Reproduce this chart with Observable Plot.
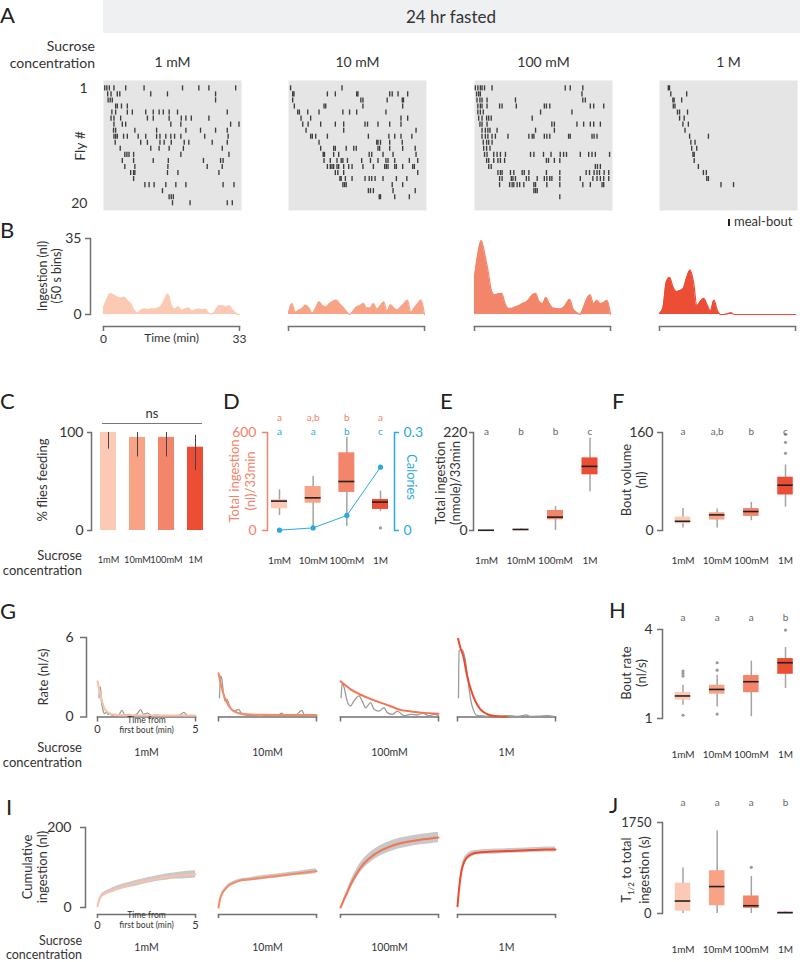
<!DOCTYPE html>
<html><head><meta charset="utf-8">
<script src="https://cdn.jsdelivr.net/npm/d3@7"></script>
<script src="https://cdn.jsdelivr.net/npm/@observablehq/plot@0.6"></script>
<style>
html,body{margin:0;padding:0;background:#fff;}
#fig{position:relative;width:800px;height:962px;overflow:hidden;font-family:Lato,'Open Sans',sans-serif;color:#333;}
.t{position:absolute;white-space:nowrap;line-height:1.15;}
</style></head><body><div id="fig"></div><script>
// ---------------- DATA ----------------
const cats = ["1mM","10mM","100mM","1M"];
const catTitles = ["1 mM","10 mM","100 mM","1 M"];

// A: meal-bout onsets (min) per fly
const raster1mM = [
 [0.3,0.8,1.4,2.5,5.3,9.7,18.9,22.8,25.2,31.6],[1.0,1.8,3.3,3.9,11.3,15.3,26.8],[1.1,1.6,2.1,26.8],[2.9,3.3,4.3,5.7],
 [2.0,2.9,5.7,6.9,10.1,11.9,13.3,14.3,15.7,17.7,29.6],[1.8,2.5,4.1,10.5,11.9,15.7,18.6,19.7,21.0,25.2],[2.5,4.5,5.3,16.1,18.5,30.4,32.4],
 [2.4,2.9,7.5,12.7,19.7,23.2,26.8,29.6],[2.5,2.9,3.3,4.8,5.7,8.3,10.1,12.7,13.5,14.9,16.1,17.0,18.5,24.2,29.8],[2.8,8.9,10.5,13.5,14.5,16.2,19.3,20.4,26.0,29.6],
 [4.0,11.3,13.3,15.7,19.1,28.4],[5.1,5.6,6.1,7.2,18.5,30.0],[4.5,7.2,11.9,15.5,23.9,28.0,28.6],[5.1,7.5,15.4,24.8,28.4],[6.5,7.2,7.5,15.3,17.8,27.6],
 [7.2],[9.9,10.9,12.1,14.9,17.3,19.7,28.6,31.2],[14.1],[15.7,16.2,16.7],[16.5,20.7,29.6,30.8]
];
const raster10mM = [
 [0.5,12.8],[1.0,1.3,9.3,11.2,16.3,16.6,24.2,24.8,26.2,28.5],[1.0,17.3,17.8,23.6,27.2,27.5],[1.4,8.5,8.9,17.8,27.3],
 [2.2,2.6,4.6,7.3,13.0,14.6,16.3,23.3],[3.0,5.3,26.9,28.5],[3.4,4.7,7.7,11.2,13.2,18.3,18.9,21.4,24.2,26.9],[4.2,13.2,30.5],
 [5.3,5.7,6.5,9.3,19.1,24.0,25.4,26.9,29.5],[7.3,21.1,21.4,22.0,24.2,27.2],[7.7,10.8,11.2,13.8,15.6,16.2,21.4,21.8,24.2,27.3,30.3],
 [8.3,8.6,10.8,12.0,19.3,19.9,22.6,25.0,30.5],[8.5,10.0,11.6,12.6,13.0,14.1,17.5,19.6,21.4,23.3,23.8,25.4,28.9,30.9],
 [9.3,10.0,10.4,10.8,11.6,12.0,13.2,14.4,15.2,17.8,20.3,23.0,23.4,23.8,25.4,25.8,27.3,29.7,30.1],[11.2,11.8,13.2,30.9],
 [12.3,12.6,13.6,15.2,18.3,19.3,19.9,20.7,22.6,25.8,28.3],[13.0,13.4,13.8,24.8,27.3],[19.1,19.6,20.3,25.0,30.3],[21.7,22.0,25.4,28.9]
];
const raster100mM = [
 [0.2,0.8,1.4,1.8,2.4,4.2,21.7,22.9,25.9],[0.5,1.0,1.4,25.7],[0.6,1.3,1.8,3.0,9.8,25.9,26.5],
 [0.8,1.4,1.8,3.0,6.0,6.6,10.0,16.7,17.2,18.0,27.7,28.5,30.9],[0.8,1.4,2.1,15.8,23.3],[1.0,1.8,2.9,3.4,4.0,13.8],
 [1.3,1.8,3.0,18.5,19.1,24.5,26.1,27.7,28.5,30.1],[1.8,2.6,3.2,3.7,5.4,14.6,19.1],
 [1.8,2.6,3.2,4.2,5.0,8.0,13.0,13.8,14.2,16.7,17.3,18.0,22.5,22.9,28.1,28.6,29.3],[2.1,2.9,3.4,4.2],[2.2,2.9,3.7],
 [2.4,3.0,4.6,5.4,6.2,7.4,13.4,14.2,16.5,18.3,20.5,21.3,22.0,25.3,27.3,28.1,28.9,32.3],[2.9,3.4,4.6,5.6,6.2,7.2,17.2,17.7,19.1,20.4],
 [3.4,4.0,28.9,29.4,30.1],[5.6,6.2,6.6,8.6,9.4,11.4,11.9,13.0,17.2,20.4,26.7,27.5,28.6,29.3,29.9,31.0,32.1],
 [6.0,6.6,8.8,9.2,9.8,12.4,13.0,15.0,16.7,17.3,18.0,18.5,20.4,25.3,28.3,29.3,30.1,30.9,32.1],
 [6.0,8.4,9.0,9.4,10.2,10.8,11.8,14.2,14.6,17.3,20.4,25.9,27.7,30.5,30.9],[14.2,14.6,15.0],[20.4]
];
const raster1M = [
 [2.1,2.4],[2.7,6.5],[3.2,3.5,5.3],[3.3,3.7],[4.3,4.8,6.7],[4.8,5.9],[5.6,6.9],[6.1],[7.2,11.7],[7.5,8.5],
 [7.7,8.9],[8.0,8.3],[8.3],[9.3],[10.5,11.2],[11.3,11.7],[14.7,17.7]
];

// B: ingestion (nl) per 50 s bin, 0..33 min
const ingest1mM = [3,7,9.5,9,8,7.5,8,6.5,5,2,0.5,2,2.5,2.3,2.5,2.5,3,4,7,9.4,4,2.5,3.5,2,2.5,3,1.5,2.2,2.5,2,2.5,0.5,0.3,2,4,4,3.5,4,2,0.5,0];
const ingest10mM = [0.5,5,1,2,2.8,4.3,3,0.5,3,5.8,4,3.5,5,6,6.6,5,3.5,1.5,0,1.5,3.5,4,5,3,3,5,2.5,4,5.8,1.5,4.5,3,2,3.5,5,6.6,1,3,5,6.6,0];
const ingest100mM = [17,28,34,28,20,11,9,9.5,9.7,5,2.8,2.8,3.5,4,5,5.5,7,9,9.7,6,5,7.8,5,3,2.8,2.5,3,5,7,2.5,1,0,3,7,9,5,6.5,5,5.5,6.5,0];
const ingest1M = [0.5,3,15,17,12.5,10.5,11,12,17,20.4,15,4,6,7.4,4.5,1.5,6.6,2,0,0,0.3,0.8,0,0,0,0,0,0,0,0,0,0,0,0,0,0,0,0,0,0,0];

// C: % flies feeding
const pctFeeding = [100,95,95,85];
const pctLo = [83,75,75,61];
const pctHi = [100,100,100,97];

// D: total ingestion (nl)/33min  [low whisker, q1, median, q3, high whisker]
const totalNlStats = [[92,133,180,188,249],[20,167,200,269,331],[24,233,300,476,571],[118,129,174,190,241]];
const totalNlOutliers = [[],[],[],[16]];
const calories = [0.001,0.008,0.046,0.194];
const lettersDnl = ["a","a,b","b","a"];
const lettersDcal = ["a","a","b","c"];

// E: total ingestion (nmole)/33min
const totalNmoleStats = [[0,0.2,0.5,0.9,1.5],[0.5,1.5,2.2,3.0,4.0],[0,24,30,45,54],[87,125,144,163,207]];
const lettersE = ["a","b","b","c"];

// F: bout volume (nl)
const boutVolStats = [[4,11,15,22,36],[4,17,25.5,29,35],[16,23,31,36,46],[38,58,74,87,107]];
const boutVolOutliers = [[],[],[],[126,144,157]];
const lettersF = ["a","a,b","b","c"];

// G: ingestion rate (nl/s) vs time from first bout (min): [t, rate]
const rateData1mM = [[0.08,1.45],[0.1,2.3],[0.15,2.2],[0.2,1.2],[0.27,0.6],[0.35,0.25],[0.45,0.35],[0.55,0.2],[0.65,0.3],[0.75,0.12],[0.9,0.2],[1.05,0.1],[1.25,0.5],[1.4,0.15],[1.6,0.2],[1.8,0.08],[2.0,0.2],[2.2,0.55],[2.35,0.2],[2.55,0.3],[2.75,0.1],[3.0,0.15],[3.3,0.06],[3.6,0.12],[3.9,0.1],[4.2,0.15],[4.4,0.35],[4.6,0.1],[4.8,0.12],[5,0.05]];
const rateData10mM = [[0.05,1.45],[0.1,3.1],[0.17,2.85],[0.26,1.7],[0.34,1.2],[0.43,1.33],[0.6,0.7],[0.77,0.45],[0.9,0.5],[1.03,0.58],[1.2,0.2],[1.4,0.15],[1.6,0.1],[1.8,0.15],[2.1,0.05],[2.4,0.12],[2.7,0.1],[3.0,0.06],[3.2,0.3],[3.4,0.12],[3.7,0.1],[4.0,0.2],[4.25,0.5],[4.4,0.12],[4.7,0.06],[5,0.1]];
const rateData100mM = [[0.03,1.45],[0.09,2.6],[0.17,2.3],[0.34,1.2],[0.51,0.83],[0.68,1.2],[0.94,1.6],[1.11,1.2],[1.28,0.7],[1.54,1.08],[1.71,0.58],[1.96,0.45],[2.22,0.7],[2.39,0.33],[2.65,0.2],[2.9,0.45],[3.24,0.1],[3.58,0.2],[3.92,0.15],[4.2,0.3],[4.5,0.1],[4.8,0.2],[5,0.1]];
const rateData1M = [[0.05,1.45],[0.08,5.0],[0.22,5.1],[0.39,4.37],[0.56,2.5],[0.68,1.24],[0.82,0.5],[0.99,0.12],[1.2,0.1],[1.45,0.05],[1.8,0.12],[2.2,0.05],[2.6,0.1],[3.0,0.05],[3.4,0.12],[3.5,0.15],[3.7,0.05],[4.1,0.06],[4.6,0.1],[4.9,0.05]];
const rateFit1mM = [[0,2.7],[0.1,2.0],[0.2,1.35],[0.3,0.85],[0.4,0.55],[0.55,0.32],[0.7,0.22],[1,0.16],[1.5,0.13],[2,0.12],[3,0.12],[4,0.12],[5,0.12]];
const rateFit10mM = [[0,3.3],[0.13,2.4],[0.26,1.7],[0.4,1.2],[0.52,0.85],[0.77,0.45],[1,0.3],[1.3,0.22],[2,0.17],[3,0.16],[4,0.16],[5,0.16]];
const rateFit100mM = [[0,2.7],[0.25,2.4],[0.5,2.1],[1,1.7],[1.37,1.46],[2,1.1],[2.5,0.85],[3.1,0.52],[3.6,0.42],[4.1,0.33],[5,0.25]];
const rateFit1M = [[0.03,5.9],[0.15,5.2],[0.31,4.5],[0.45,3.4],[0.56,2.7],[0.7,2.0],[0.82,1.5],[1,0.95],[1.16,0.6],[1.4,0.3],[1.67,0.13],[2,0.05],[2.5,0.02]];

// H: bout rate (nl/s)
const boutRateStats = [[1.45,1.62,1.76,1.88,2.12],[1.39,1.82,1.98,2.12,2.46],[1.06,1.87,2.24,2.45,2.93],[2.01,2.49,2.88,3.02,3.39]];
const boutRateOutliers = [[2.43,2.52,2.6,1.11],[2.63,2.88,1.15],[],[3.98]];
const lettersH = ["a","a","a","b"];

// I: cumulative ingestion (nl), mean and spread
const cumT = [0,0.1,0.2,0.35,0.5,0.75,1,1.5,2,2.5,3,3.5,4,4.5,5];
const cum1mM = [3,20,29,34,38,43,48,55,61,67,72,76,79,81,83];
const cumSd1mM = [2,3,4,5,5,6,6,6,7,7,7,8,8,9,9];
const cum10mM = [0,25,36,46,54,61,66,70,73,76,79,82,85,88,91];
const cumSd10mM = [1,3,4,4,4,4,4,4,5,5,5,5,5,6,6];
const cum100mM = [0,11,22,38,55,78,98,124,141,152,160,165,169,172,175];
const cumSd100mM = [0,3,5,7,9,11,12,13,13,13,13,13,13,13,13];
const cum1M = [3,55,90,115,126,134,137,139,140,141,142,143,144,145,145];
const cumSd1M = [1,8,10,9,8,7,6,6,6,6,6,6,6,6,6];

// J: T1/2 to total ingestion (s)
const halfTimeStats = [[0,45,240,583,875],[0,149,518,823,1588],[0,97,149,337,713],[0,5,15,25,35]];
const halfTimeOutliers = [[],[],[888],[]];
const lettersJ = ["a","a","a","b"];

// ---------------- STYLE ----------------
const fillColors = ["#fccab4","#f8a386","#f3866a","#ec4d35"];
const lineColors = ["#f9c1a6","#f58a66","#f37352","#ee4a2e"];
const BLUE = "#2aa9e0", SALMON = "#f2826a", AX = "#707070", INK = "#333";
const FONT = "Lato, 'Open Sans', sans-serif";
const fig = document.getElementById("fig");

function plotAt(frame, m, opts) {
  const width = frame.x1 - frame.x0 + m.l + m.r;
  const height = frame.y1 - frame.y0 + m.t + m.b;
  const svg = Plot.plot({width, height, marginLeft: m.l, marginRight: m.r, marginTop: m.t, marginBottom: m.b,
    style: {fontFamily: FONT, fontSize: "12px", background: "transparent", overflow: "visible", color: INK}, ...opts});
  svg.style.position = "absolute";
  svg.style.left = (frame.x0 - m.l) + "px";
  svg.style.top = (frame.y0 - m.t) + "px";
  svg.style.maxWidth = "none";
  fig.appendChild(svg);
  return svg;
}
function txt(html, x, y, o = {}) {
  const d = document.createElement("div");
  d.className = "t"; d.innerHTML = html;
  const s = d.style;
  s.fontSize = (o.size || 13) + "px"; s.color = o.color || INK;
  if (o.lh) s.lineHeight = o.lh;
  if (o.align === "right") { s.right = (800 - x) + "px"; s.top = y + "px"; s.textAlign = "right"; }
  else if (o.rotate) { s.left = x + "px"; s.top = y + "px"; s.textAlign = "center"; s.transform = `translate(-50%,-50%) rotate(${o.rotate}deg)`; }
  else if (o.align === "center") { s.left = x + "px"; s.top = y + "px"; s.textAlign = "center"; s.transform = "translate(-50%,-50%)"; }
  else { s.left = x + "px"; s.top = y + "px"; }
  fig.appendChild(d);
  return d;
}
function bandCfg(L, R, c1, cn, bw) {
  const n = cats.length, s = (cn - c1) / (n - 1), pi = 1 - bw / s;
  const covered = s * (n - pi), po = ((R - L) / s - n + pi) / 2;
  const align = (c1 - bw / 2 - L) / ((R - L) - covered);
  return {type: "band", domain: cats, paddingInner: pi, paddingOuter: po, align, round: false};
}
function yAxisMarks(ticks, o = {}) {
  const {color = AX, text = INK, fontSize = 14, tickSize = 4, tickPadding = 3, anchor = "left"} = o;
  return [
    Plot.axisY({ticks, anchor, tickSize, tickPadding, fontSize, stroke: color, fill: text, strokeWidth: 1.5, label: null, tickFormat: d => String(d)}),
    Plot.frame({anchor, stroke: color, strokeWidth: 1.5})
  ];
}
function yAxisOnly(spineX, y0, y1, domain, ticks, o = {}) {
  plotAt({x0: spineX, x1: spineX + 1, y0, y1}, {l: 45, r: 0, t: 8, b: 8}, {
    y: {domain}, marks: [...yAxisMarks(ticks, o)]
  });
}
function boxMarks(statsArr, outArr) {
  const st = statsArr.map((s, i) => ({c: cats[i], lo: s[0], q1: s[1], med: s[2], q3: s[3], hi: s[4]}));
  const out = outArr.flatMap((vs, i) => vs.map(v => ({c: cats[i], v})));
  return [
    Plot.ruleX(st, {x: "c", y1: "lo", y2: "hi", stroke: "#a3a3a3", strokeWidth: 1.5}),
    Plot.barY(st, {x: "c", y1: "q1", y2: "q3", fill: "c"}),
    Plot.tickY(st, {x: "c", y: "med", stroke: "#222", strokeWidth: 1.6}),
    Plot.dot(out, {x: "c", y: "v", r: 1.6, fill: "#9a9a9a", stroke: null})
  ];
}
const letterMarks = (letters, dy, fill = "#666") =>
  Plot.text(cats, {x: d => d, text: (d, i) => letters[i], frameAnchor: "top", dy, fontSize: 10, fill});
const catAxis = (tp, fs = 10) => Plot.axisX({tickSize: 0, tickPadding: tp, fontSize: fs, fill: INK, label: null});
const colorCfg = {domain: cats, range: fillColors};

// ---------------- HEADER / PANEL LETTERS ----------------
const band = document.createElement("div");
Object.assign(band.style, {position: "absolute", left: "103px", top: "0px", width: "697px", height: "33px", background: "#eff0f2"});
fig.appendChild(band);
txt("24 hr fasted", 451, 17, {align: "center", size: 17});
[["A",0,4],["B",0,219],["C",0,390],["D",223,390],["E",440,390],["F",612,390],["G",0,600],["H",609,599],["I",6,796],["J",609,794]]
  .forEach(([l, x, y]) => txt(l, x, y, {size: 22, color: "#222", lh: 1}));
txt("Sucrose<br>concentration", 95, 38, {align: "right", size: 14, lh: 1.2});
txt("Sucrose<br>concentration", 82, 548, {align: "right", size: 13});
txt("Sucrose<br>concentration", 82, 740, {align: "right", size: 13});
txt("Sucrose<br>concentration", 82, 934, {align: "right", size: 12.5, lh: "14px"});

// ---------------- A: rasters ----------------
const rasterLefts = [103, 288, 474, 659];
[raster1mM, raster10mM, raster100mM, raster1M].forEach((rows, k) => {
  const data = rows.flatMap((ts, i) => ts.map(t => ({fly: i + 1, t})));
  const left = rasterLefts[k];
  plotAt({x0: left, x1: left + 138, y0: 80, y1: 210}, {l: 30, r: 2, t: 32, b: 2}, {
    x: {domain: [0, 33], axis: null},
    y: {domain: [-0.3, 21.2], reverse: true, ...(k === 0 ? {} : {axis: null})},
    marks: [
      Plot.frame({fill: "#e5e5e5", stroke: "none"}),
      Plot.ruleX(data, {x: "t", y1: d => d.fly - 0.42, y2: d => d.fly + 0.42, stroke: "#111", strokeOpacity: 0.8, strokeWidth: 1.35}),
      Plot.text([catTitles[k]], {frameAnchor: "top", dy: -23, fontSize: 14, fill: INK}),
      ...(k === 0 ? [Plot.axisY({ticks: [1, 20], tickSize: 0, tickPadding: 16, fontSize: 14, fill: INK, label: null})] : [])
    ]
  });
});
txt("Fly #", 80, 146, {rotate: -90, size: 14});
txt('<span style="display:inline-block;width:2px;height:7px;background:#222;margin-right:4px;vertical-align:0px"></span>meal-bout', 728, 214, {size: 13});

// ---------------- B: ingestion histograms ----------------
const binMin = 33 / 40;
yAxisOnly(90, 238, 314, [0, 35], [0, 35], {tickSize: 5, tickPadding: 4});
txt("Ingestion (nl)<br>(50 s bins)", 50, 276, {rotate: -90, size: 12.5});
[ingest1mM, ingest10mM, ingest100mM, ingest1M].forEach((vals, k) => {
  const left = rasterLefts[k], mt = 4, top = 238 - mt;
  plotAt({x0: left, x1: left + 136, y0: 238, y1: 326}, {l: 4, r: 4, t: mt, b: 34}, {
    x: {domain: [0, 33]},
    y: {domain: [0, 35], range: [314 - top, 238 - top], axis: null},
    marks: [
      Plot.areaY(vals, {x: (d, i) => i * binMin, y: d => d, fill: fillColors[k], curve: "monotone-x"}),
      Plot.lineY(vals, {x: (d, i) => i * binMin, y: d => d, stroke: fillColors[k], strokeWidth: 1.2, curve: "monotone-x"}),
      Plot.frame({anchor: "bottom", stroke: AX, strokeWidth: 1.5}),
      Plot.axisX({ticks: [0, 33], tickSize: 5, tickPadding: 3, fontSize: 12, stroke: AX, fill: INK, strokeWidth: 1.5, label: null,
                  tickFormat: k === 0 ? d => String(d) : () => ""}),
      ...(k === 0 ? [Plot.text(["Time (min)"], {frameAnchor: "bottom", dy: 15, fontSize: 12, fill: INK})] : [])
    ]
  });
});

// ---------------- C: % flies feeding ----------------
const cData = cats.map((c, i) => ({c, v: pctFeeding[i], lo: pctLo[i], hi: pctHi[i]}));
plotAt({x0: 91, x1: 212, y0: 432, y1: 530}, {l: 45, r: 4, t: 4, b: 45}, {
  x: bandCfg(91, 212, 108, 195, 16), y: {domain: [0, 100]}, color: colorCfg,
  marks: [
    Plot.barY(cData, {x: "c", y: "v", fill: "c"}),
    Plot.ruleX(cData, {x: "c", y1: "lo", y2: "hi", stroke: "#444", strokeWidth: 1}),
    ...yAxisMarks([0, 100], {tickSize: 4, tickPadding: 4}),
    catAxis(26, 9.3)
  ]
});
txt("% flies feeding", 42, 480, {rotate: -90, size: 13});
txt("ns", 152, 413, {align: "center", size: 13});
const nsLine = document.createElement("div");
Object.assign(nsLine.style, {position: "absolute", left: "102px", top: "423px", width: "100px", height: "0px", borderTop: "1.5px solid #777"});
fig.appendChild(nsLine);

// ---------------- D: total ingestion nl + calories ----------------
const dX = bandCfg(267, 394, 279, 380, 16);
plotAt({x0: 267, x1: 394, y0: 432, y1: 530}, {l: 45, r: 30, t: 30, b: 45}, {
  x: dX, y: {domain: [0, 600]}, color: colorCfg,
  marks: [
    ...boxMarks(totalNlStats, totalNlOutliers),
    ...yAxisMarks([0, 600], {color: SALMON, text: SALMON, tickSize: 5, tickPadding: 6}),
    letterMarks(lettersDnl, -19, SALMON),
    letterMarks(lettersDcal, -5, BLUE),
    catAxis(26)
  ]
});
plotAt({x0: 267, x1: 394, y0: 432, y1: 530}, {l: 10, r: 40, t: 10, b: 10}, {
  x: {...dX, axis: null}, y: {domain: [0, 0.3]},
  marks: [
    Plot.line(calories, {x: (d, i) => cats[i], y: d => d, stroke: BLUE, strokeWidth: 1}),
    Plot.dot(calories, {x: (d, i) => cats[i], y: d => d, r: 2.6, fill: BLUE, stroke: null}),
    ...yAxisMarks([0, 0.3], {anchor: "right", color: BLUE, text: BLUE, tickSize: 4, tickPadding: 5})
  ]
});
txt("Total ingestion<br>(nl)/33min", 242, 481, {rotate: -90, size: 13, color: SALMON, lh: 1.25});
txt("Calories", 412, 477, {rotate: 90, size: 13, color: BLUE});

// ---------------- E: total ingestion nmole ----------------
plotAt({x0: 473, x1: 603, y0: 432, y1: 530}, {l: 45, r: 4, t: 30, b: 45}, {
  x: bandCfg(473, 603, 486, 589.5, 16), y: {domain: [0, 220]}, color: colorCfg,
  marks: [
    ...boxMarks(totalNmoleStats, [[],[],[],[]]),
    ...yAxisMarks([0, 220], {tickSize: 4, tickPadding: 2}),
    letterMarks(lettersE, -5),
    catAxis(26)
  ]
});
txt("Total ingestion<br>(nmole)/33min", 448, 483, {rotate: -90, size: 13});

// ---------------- F: bout volume ----------------
const rightX = bandCfg(662, 797, 682.5, 785, 15.5);
plotAt({x0: 662, x1: 797, y0: 432, y1: 530}, {l: 45, r: 3, t: 30, b: 45}, {
  x: rightX, y: {domain: [0, 160]}, color: colorCfg,
  marks: [
    ...boxMarks(boutVolStats, boutVolOutliers),
    ...yAxisMarks([0, 160], {tickSize: 5, tickPadding: 4}),
    letterMarks(lettersF, -5),
    catAxis(26)
  ]
});
txt("Bout volume<br>(nl)", 634, 480, {rotate: -90, size: 13});

// ---------------- G: rate curves ----------------
const subLefts = [97, 218, 340, 457];
yAxisOnly(86, 637, 716.5, [0, 6], [0, 6], {tickSize: 6, tickPadding: 7});
txt("Rate (nl/s)", 43, 677, {rotate: -90, size: 13});
const rateData = [rateData1mM, rateData10mM, rateData100mM, rateData1M];
const rateFit = [rateFit1mM, rateFit10mM, rateFit100mM, rateFit1M];
rateData.forEach((data, k) => {
  const left = subLefts[k];
  plotAt({x0: left, x1: left + 98, y0: 637, y1: 716.5}, {l: 4, r: 4, t: 4, b: 48}, {
    x: {domain: [0, 5]}, y: {domain: [0, 6], axis: null},
    marks: [
      Plot.frame({anchor: "bottom", stroke: AX, strokeWidth: 1.5}),
      Plot.axisX({ticks: [0, 5], tickSize: 5, tickPadding: 3, fontSize: 11, stroke: AX, fill: INK, strokeWidth: 1.5, label: null,
                  tickFormat: k === 0 ? d => String(d) : () => ""}),
      Plot.line(data, {x: d => d[0], y: d => d[1], stroke: "#9b9b9b", strokeWidth: 1.3, curve: "monotone-x"}),
      Plot.line(rateFit[k], {x: d => d[0], y: d => d[1], stroke: lineColors[k], strokeWidth: 2, curve: "monotone-x"}),
      Plot.text([cats[k]], {frameAnchor: "bottom", dy: 38.5, fontSize: 10.5, fill: INK}),
      ...(k === 0 ? [Plot.text(["Time from\nfirst bout (min)"], {frameAnchor: "bottom", dy: 15.5, fontSize: 8.5, lineHeight: 1.15, fill: INK})] : [])
    ]
  });
});

// ---------------- H: bout rate ----------------
plotAt({x0: 662, x1: 797, y0: 629, y1: 718}, {l: 45, r: 3, t: 30, b: 45}, {
  x: rightX, y: {domain: [1, 4]}, color: colorCfg,
  marks: [
    ...boxMarks(boutRateStats, boutRateOutliers),
    ...yAxisMarks([1, 4], {tickSize: 5, tickPadding: 5}),
    letterMarks(lettersH, -16),
    catAxis(32)
  ]
});
txt("Bout rate<br>(nl/s)", 634, 673, {rotate: -90, size: 13});

// ---------------- I: cumulative ingestion ----------------
yAxisOnly(85, 827, 907, [0, 200], [0, 200], {tickSize: 5, tickPadding: 9});
txt("Cumulative<br>ingestion (nl)", 35, 867, {rotate: -90, size: 13});
const cumMean = [cum1mM, cum10mM, cum100mM, cum1M];
const cumSd = [cumSd1mM, cumSd10mM, cumSd100mM, cumSd1M];
cumMean.forEach((mean, k) => {
  const left = subLefts[k], mt = 5, top = 827 - mt, sd = cumSd[k];
  plotAt({x0: left, x1: left + 98, y0: 827, y1: 914}, {l: 4, r: 4, t: mt, b: 45}, {
    x: {domain: [0, 5]}, y: {domain: [0, 200], range: [907 - top, 827 - top], axis: null},
    marks: [
      Plot.areaY(cumT, {x: t => t, y1: (t, i) => mean[i] - sd[i], y2: (t, i) => mean[i] + sd[i], fill: "#c8c8c8", curve: "monotone-x"}),
      Plot.lineY(cumT, {x: t => t, y: (t, i) => mean[i], stroke: lineColors[k], strokeWidth: 2, curve: "monotone-x"}),
      Plot.frame({anchor: "bottom", stroke: AX, strokeWidth: 1.5}),
      Plot.axisX({ticks: [0, 5], tickSize: 4, tickPadding: 3, fontSize: 11, stroke: AX, fill: INK, strokeWidth: 1.5, label: null,
                  tickFormat: k === 0 ? d => String(d) : () => ""}),
      Plot.text([cats[k]], {frameAnchor: "bottom", dy: 36, fontSize: 10.5, fill: INK}),
      ...(k === 0 ? [Plot.text(["Time from\nfirst bout (min)"], {frameAnchor: "bottom", dy: 13.5, fontSize: 8.5, lineHeight: 1.15, fill: INK})] : [])
    ]
  });
});

// ---------------- J: T1/2 ----------------
plotAt({x0: 662, x1: 797, y0: 822, y1: 913}, {l: 45, r: 3, t: 30, b: 45}, {
  x: rightX, y: {domain: [0, 1750]}, color: colorCfg,
  marks: [
    ...boxMarks(halfTimeStats, halfTimeOutliers),
    ...yAxisMarks([0, 1750], {tickSize: 5, tickPadding: 6, fontSize: 13}),
    letterMarks(lettersJ, -24),
    catAxis(32)
  ]
});
txt('T<sub style="font-size:8px">1/2</sub> to total<br>ingestion (s)', 635, 870, {rotate: -90, size: 13});
</script></body></html>
